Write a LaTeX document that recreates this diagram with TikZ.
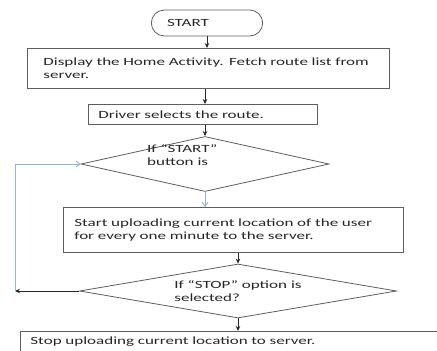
\documentclass[tikz,border=0pt]{standalone}
\usepackage{fontspec}
\setmainfont{Carlito}[FakeStretch=1.55]
\usetikzlibrary{positioning, arrows.meta, shapes.geometric, shapes.misc}
\definecolor{fcgray}{HTML}{5E5E5E}
\definecolor{fcblue}{HTML}{8DB6DC}
\definecolor{fctext}{HTML}{262626}
\newcommand{\flowfont}{\fontsize{11}{13}\selectfont\lineskiplimit=-20pt\relax}

\begin{document}
\begin{tikzpicture}[
    x=1pt, y=-1pt,
    >={Stealth[length=5pt, width=4.5pt]},
    font=\flowfont,
    text=fctext,
    flow/.style={draw=black!85, line width=0.9pt, ->},
    loopback/.style={draw=fcblue, line width=0.9pt, -{Straight Barb[length=4pt, width=6pt]}},
    proc/.style={draw=fcgray, line width=0.8pt, rectangle, anchor=north west, align=left,
      inner ysep=2pt},
    decide/.style={draw=fcgray, line width=0.8pt, diamond, aspect=5.9, inner sep=0pt, align=left},
    terminal/.style={draw=fcgray, line width=0.8pt, rounded rectangle, align=left},
  ]
  \useasboundingbox (0,0) rectangle (437,351);
  \clip (0,0) rectangle (437,351);

  % ----- start -----
  \node[terminal, minimum width=118, minimum height=26, text width=80] (start) at (207,23) {START};

  % ----- processing steps -----
  \node[proc, minimum width=362, minimum height=40, inner xsep=16, text width=330] (home) at (27,48)
    {Display the Home Activity. Fetch route list from\\server.};
  \node[proc, minimum width=229, minimum height=20, inner xsep=10, text width=209] (route) at (88,104)
    {Driver selects the route.};

  % ----- first decision -----
  \node[decide, minimum width=248, minimum height=55] (ask) at (205,164) {};
  \node[align=left, anchor=north west, inner sep=0pt] (asktxt) at (147,144) {If “START”\\button is};

  \node[proc, minimum width=340, minimum height=45, inner xsep=11, text width=318, text depth=14pt] (upload) at (63,207)
    {Start uploading current location of the user\\for every one minute to the server.};

  % ----- second decision -----
  \node[decide, minimum width=317, minimum height=54] (stopq) at (238,291)
    {If “STOP” option is\\selected?};

  \node[proc, minimum width=440, minimum height=20, inner xsep=10, text width=420] (stop) at (20,331)
    {Stop uploading current location to server.};
  \coordinate (back) at (15,291);

  % ----- wiring -----
  \draw[flow] (start.south) -- (start.south |- home.north);      % start -> home
  \draw[flow] (ask.north |- home.south) -- (ask.north |- route.north);
  \draw[flow] (route.south -| ask.north) -- (ask.north);          % route -> decision
  \draw[loopback] (ask.south) -- (ask.south |- upload.north);     % yes -> upload
  \draw[flow] (upload.south -| stopq.north) -- (stopq.north);
  \draw[flow] (stopq.south) -- (stopq.south |- stop.north);       % yes -> stop
  \draw[flow] (stopq.west) -- (back);                             % no -> loop back
  \draw[loopback] (back) |- (ask.west);

\end{tikzpicture}
\end{document}
